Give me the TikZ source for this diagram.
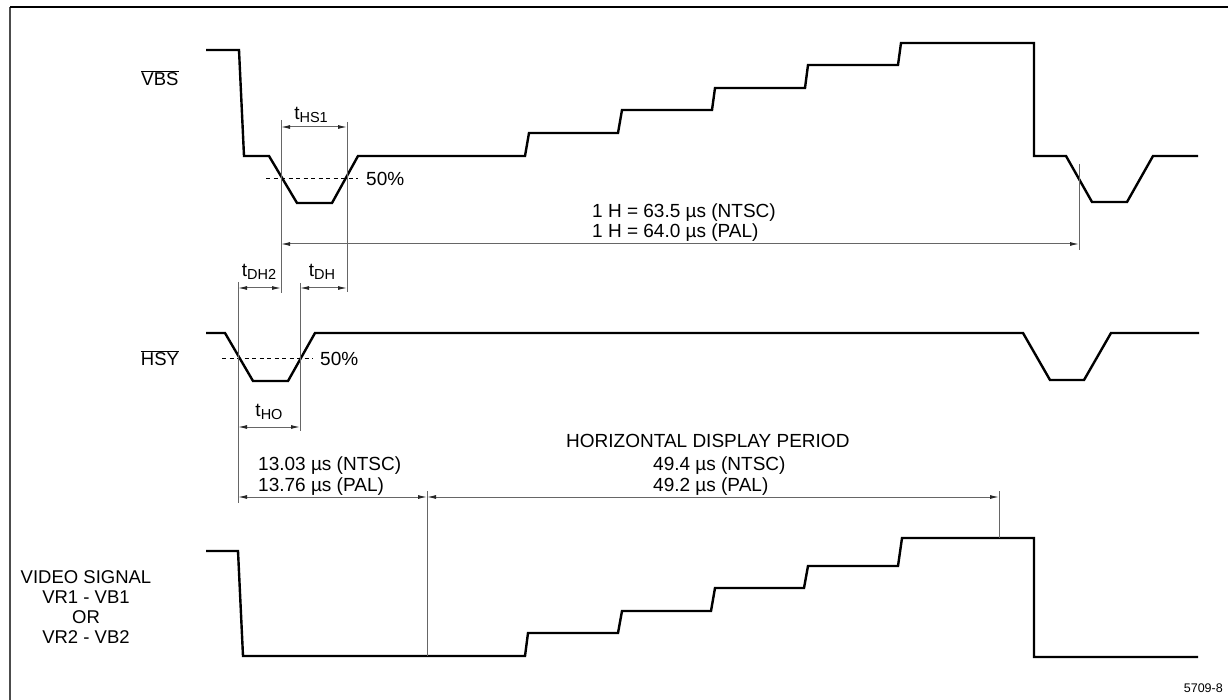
\documentclass[tikz,border=0pt]{standalone}
\usepackage{fontspec}
\setmainfont{Liberation Sans}
\usetikzlibrary{arrows.meta}
\newcommand{\tsubx}[1]{\raisebox{-0.32ex}{\fontsize{14.5}{14.5}\selectfont #1}}
\newcommand{\tlab}[1]{t\tsubx{#1}}
\begin{document}
\begin{tikzpicture}[x=1pt,y=-1pt,
  wave/.style={line width=2.4pt, line join=miter, draw=black},
  dimline/.style={line width=1pt, draw=black!60},
  dimarrow/.style={line width=1pt, draw=black!60, {Latex[length=9pt,width=4pt,color=black!85]}-{Latex[length=9pt,width=4pt,color=black!85]}},
  halfline/.style={line width=0.8pt, draw=black, dash pattern=on 4pt off 3.5pt},
  lbl/.style={font=\fontsize{19}{20.5}\selectfont, inner sep=0pt},
  sig/.style={font=\fontsize{18.5}{20}\selectfont, inner sep=0pt, align=center},
  frameline/.style={line width=1.5pt}
]
\useasboundingbox (0,0) rectangle (1228,700);
% frame
\draw[frameline, draw=black!70] (10,700) -- (10,7);
\draw[frameline, draw=black] (10,7) -- (1228,7);

% signal names
\node[sig] (vbs) at (160,78) {$\overline{\mbox{VBS}}$};
\node[sig] (hsy) at (160,358) {$\overline{\mbox{HSY}}$};
\node[sig] (video) at (86,607) {VIDEO SIGNAL\\VR1 - VB1\\OR\\VR2 - VB2};

% VBS waveform
\draw[wave] (206,50) -- (239,50) -- (244,156) -- (269,156) -- (297,203) -- (332,203) -- (358,156)
  -- (525,156) -- (529,133) -- (618,133) -- (622,110) -- (712,110) -- (715,88) -- (805,88)
  -- (808,65) -- (898,65) -- (901,43) -- (1034,43) -- (1034,156) -- (1066,156) -- (1092,202)
  -- (1127,202) -- (1153,156) -- (1198,156);
% HSY waveform
\draw[wave] (206,333) -- (225,333) -- (253,381) -- (288,381) -- (315,333) -- (1023,333)
  -- (1050,380) -- (1084,380) -- (1111,333) -- (1199,333);
% video waveform
\draw[wave] (206,551) -- (238,551) -- (243,656) -- (525,656) -- (528,633) -- (618,633)
  -- (622,611) -- (711,611) -- (715,588) -- (804,588) -- (808,566) -- (898,566) -- (902,538)
  -- (1034,538) -- (1034,657) -- (1198,657);

% 50% lines
\coordinate (d1a) at (266,178); \coordinate (d1b) at (358,178);
\draw[halfline] (d1a) -- (d1b);
\node[lbl, anchor=west] (p50a) at (366,179) {50\%};
\coordinate (d2a) at (222,358); \coordinate (d2b) at (313,358);
\draw[halfline] (d2a) -- (d2b);
\node[lbl, anchor=west] (p50b) at (320,359) {50\%};

% extension lines
\coordinate (v1t) at (281,120); \coordinate (v1b) at (281,293);
\coordinate (v2t) at (347,122); \coordinate (v2b) at (347,292);
\coordinate (v3t) at (1079,164); \coordinate (v3b) at (1079,250);
\coordinate (v4t) at (238,282); \coordinate (v4b) at (238,503);
\coordinate (v5t) at (300,283); \coordinate (v5b) at (300,431);
\coordinate (v6t) at (427,491); \coordinate (v6b) at (427,656);
\coordinate (v7t) at (999,491); \coordinate (v7b) at (999,538);
\foreach \v in {v1,v2,v3,v4,v5,v6,v7} \draw[dimline] (\v t) -- (\v b);

% t_HS1
\coordinate (a1l) at (281,127); \coordinate (a1r) at (347,127);
\draw[dimarrow] (a1l) -- (a1r);
\node[lbl] (ths1) at (311,115) {\tlab{HS1}};
% 1 H
\coordinate (a2l) at (281,244); \coordinate (a2r) at (1079,244);
\draw[dimarrow] (a2l) -- (a2r);
\node[lbl, anchor=base west, align=left] (oneh) at (592,238) {1 H = 63.5 µs (NTSC)\\1 H = 64.0 µs (PAL)};
% t_DH2, t_DH
\coordinate (a3l) at (238,288); \coordinate (a3r) at (281,288);
\draw[dimarrow] (a3l) -- (a3r);
\node[lbl] (tdh2) at (259,272) {\tlab{DH2}};
\coordinate (a4l) at (300,288); \coordinate (a4r) at (347,288);
\draw[dimarrow] (a4l) -- (a4r);
\node[lbl] (tdh) at (322,272) {\tlab{DH}};
% t_HO
\coordinate (a5l) at (238,427); \coordinate (a5r) at (300,427);
\draw[dimarrow] (a5l) -- (a5r);
\node[lbl] (tho) at (269,412) {\tlab{HO}};
% 13.03 / 49.4
\coordinate (a6l) at (238,497); \coordinate (a6r) at (427,497);
\draw[dimarrow] (a6l) -- (a6r);
\node[lbl, anchor=base west, align=left] (blank) at (258,491) {13.03 µs (NTSC)\\13.76 µs (PAL)};
\coordinate (a7l) at (427,497); \coordinate (a7r) at (999,497);
\draw[dimarrow] (a7l) -- (a7r);
\node[lbl, anchor=base west] (hdp) at (566,447) {HORIZONTAL DISPLAY PERIOD};
\node[lbl, anchor=base west, align=left] (disp) at (653,491) {49.4 µs (NTSC)\\49.2 µs (PAL)};

\node[font=\fontsize{12.5}{13}\selectfont, inner sep=0pt, anchor=base east] (fig) at (1223,692) {5709-8};
\end{tikzpicture}
\end{document}
